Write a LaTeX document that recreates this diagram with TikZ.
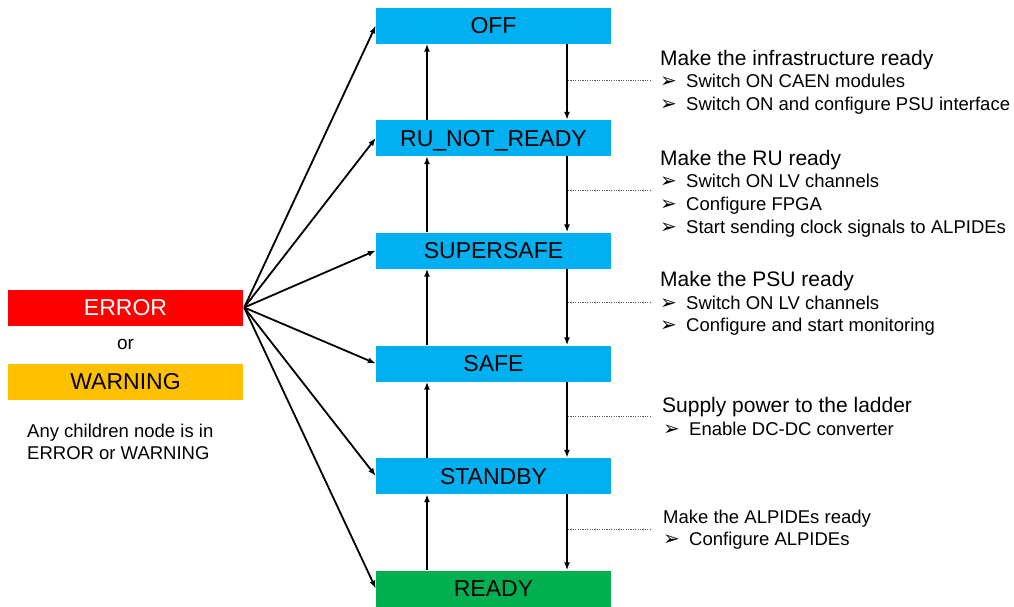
\documentclass[tikz,border=0pt]{standalone}
\usepackage{fontspec}
\setmainfont{Liberation Sans}
\newfontfamily\dejavu{DejaVu Sans}
\usetikzlibrary{arrows.meta}
\definecolor{stateblue}{HTML}{00B0F0}
\definecolor{stategreen}{HTML}{00B050}
\definecolor{errred}{HTML}{FF0000}
\definecolor{warnamber}{HTML}{FFC000}
% bullet marker followed by the item text
\newcommand\itm[1]{\makebox[26pt][l]{\dejavu\fontsize{20}{22}\selectfont ➢}#1}
\begin{document}
\begin{tikzpicture}[x=1pt,y=-1pt,
  state/.style={fill=stateblue, minimum width=235pt, minimum height=36pt,
    inner sep=0pt, text height=16.5pt, text depth=0pt,
    font=\fontsize{23}{27}\selectfont},
  arr/.style={-{Latex[length=8pt,width=6pt]}, line width=1.8pt},
  lead/.style={black!65, line width=0.75pt, dash pattern=on 1.2pt off 1.2pt},
  head/.style={anchor=base west, inner sep=0pt, font=\fontsize{21}{25}\selectfont},
  small/.style={anchor=base west, inner sep=0pt, font=\fontsize{18.5}{22}\selectfont},
]
\useasboundingbox (0,0) rectangle (1014,606);

% state boxes
\node[state] (off)   at (493.5,25.5)  {OFF};
\node[state] (ru)    at (493.5,138)   {RU\_NOT\_READY};
\node[state] (ss)    at (493.5,250.5) {SUPERSAFE};
\node[state] (safe)  at (493.5,363.5) {SAFE};
\node[state] (stby)  at (493.5,476)   {STANDBY};
\node[state, fill=stategreen] (ready) at (493.5,588.5) {READY};

% error / warning side
\node[state, fill=errred, text=white] (err) at (125.5,307.5) {ERROR};
\node[inner sep=0pt, anchor=base, font=\fontsize{19}{22}\selectfont] (or) at (125.5,349) {or};
\node[state, fill=warnamber] (warn) at (125.5,381.5) {WARNING};
\node[small] (any1) at (27,437) {Any children node is in};
\node[small] (any2) at (27,459) {ERROR or WARNING};

% transitions from the error state
\foreach \t in {off,ru,ss,safe,stby,ready}
  \draw[arr] ([xshift=1pt]err.east) -- (\t.west);

% upward transitions
\foreach \a/\b in {ru/off, ss/ru, safe/ss, stby/safe, ready/stby}
  \draw[arr] ([xshift=-66.5pt]\a.north) -- ([xshift=-66.5pt]\b.south);

% downward transitions
\foreach \a/\b in {off/ru, ru/ss, ss/safe, safe/stby, stby/ready}
  \draw[arr] ([xshift=73.5pt]\a.south) -- ([xshift=73.5pt]\b.north);

% leader lines to the descriptions
\foreach \i/\y in {1/80, 2/190, 3/302, 4/416, 5/529} {
  \coordinate (l\i) at (568,\y);
  \coordinate (r\i) at (652,\y);
  \draw[lead] (l\i) -- (r\i);
}

% descriptions
\node[head]  (h1)  at (660,65)    {Make the infrastructure ready};
\node[small] (h1a) at (660,87.5)  {\itm{Switch ON CAEN modules}};
\node[small] (h1b) at (660,110)   {\itm{Switch ON and configure PSU interface}};

\node[head]  (h2)  at (660,165)   {Make the RU ready};
\node[small] (h2a) at (660,187.7) {\itm{Switch ON LV channels}};
\node[small] (h2b) at (660,210.3) {\itm{Configure FPGA}};
\node[small] (h2c) at (660,233)   {\itm{Start sending clock signals to ALPIDEs}};

\node[head]  (h3)  at (660,286.7) {Make the PSU ready};
\node[small] (h3a) at (660,309.3) {\itm{Switch ON LV channels}};
\node[small] (h3b) at (660,331.7) {\itm{Configure and start monitoring}};

\node[head]  (h4)  at (662,412.3) {Supply power to the ladder};
\node[small] (h4a) at (663,435)   {\itm{Enable DC-DC converter}};

\node[small] (h5)  at (663,523.3) {Make the ALPIDEs ready};
\node[small] (h5a) at (663,545.7) {\itm{Configure ALPIDEs}};
\end{tikzpicture}
\end{document}
